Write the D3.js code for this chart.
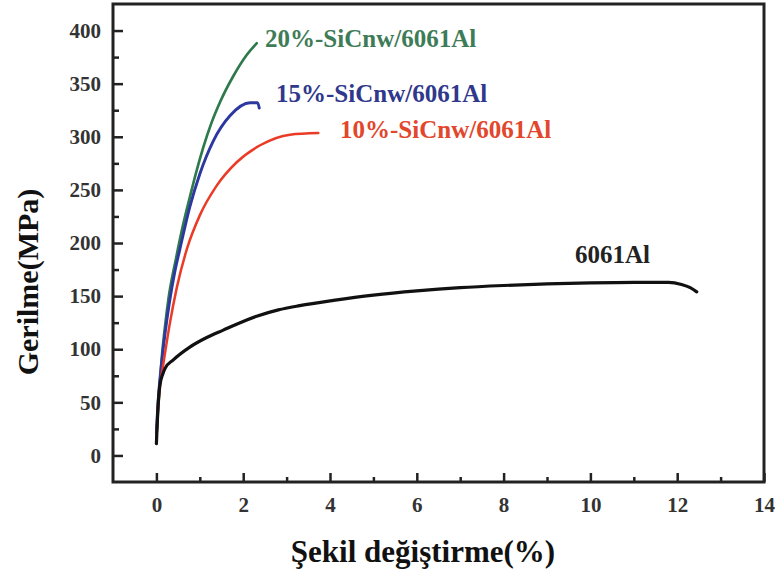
<!DOCTYPE html>
<html><head><meta charset="utf-8">
<script src="https://cdn.jsdelivr.net/npm/d3@7"></script>
<style>body{margin:0;background:#fff}</style>
</head><body><svg id="c" width="779" height="577"></svg>
<script>
// ---- data ----
const xTicks = [0, 2, 4, 6, 8, 10, 12, 14];
const xMinor = [1, 3, 5, 7, 9, 11, 13];
const yTicks = [0, 50, 100, 150, 200, 250, 300, 350, 400];
const yMinor = [25, 75, 125, 175, 225, 275, 325, 375];

const al6061 = [[0,11],[0.03,40],[0.08,66],[0.15,77],[0.2,82],[0.39,90],[0.77,102],[1.16,111],[1.54,118],[1.93,125],[2.31,131],[2.81,137],[3.3,141],[4.08,146],[5,151],[6,155],[7,158],[8,160],[9,161.5],[10,162.5],[11,163],[11.8,163],[12.1,161],[12.3,158],[12.45,154]];
const sic10 = [[0,15],[0.04,45],[0.08,64],[0.16,86],[0.3,122],[0.47,158],[0.7,194],[1.0,226],[1.39,254],[1.85,276],[2.39,292],[3.08,302],[3.73,303.5]];
const sic15 = [[0,21],[0.03,45],[0.06,62],[0.12,87],[0.2,115],[0.3,144],[0.42,172],[0.54,194],[0.77,234],[1.0,265],[1.31,296],[1.7,320],[2.16,332],[2.33,332],[2.37,327]];
const sic20 = [[0,18],[0.05,50],[0.12,90],[0.2,122],[0.28,148],[0.45,185],[0.62,218],[0.77,243],[0.9,264],[1.08,290],[1.25,311],[1.47,333],[1.77,357],[2.08,377],[2.31,388]];

const seriesNames = ["20%-SiCnw/6061Al", "15%-SiCnw/6061Al", "10%-SiCnw/6061Al", "6061Al"];
const xTitle = "Şekil değiştirme(%)";
const yTitle = "Gerilme(MPa)";

// ---- chart ----
const svg = d3.select("#c");
const L = 113, R = 764, T = 4, B = 482;
const x = d3.scaleLinear().domain([-1, 14]).range([L, R]);
const y = d3.scaleLinear().domain([-25, 425]).range([B, T]);
const font = "'Liberation Serif','Times New Roman',serif";

const series = [
  {data: sic20, color: "#2f7a4c", name: seriesNames[0], lx: 265, ly: 47, lc: "#3e7c58", w: 2.7},
  {data: sic15, color: "#2c37a0", name: seriesNames[1], lx: 276, ly: 102, lc: "#2f388c", w: 2.9},
  {data: sic10, color: "#ea3b27", name: seriesNames[2], lx: 340, ly: 138, lc: "#e2462c", w: 2.5},
  {data: al6061, color: "#111111", name: seriesNames[3], lx: 575, ly: 263, lc: "#222222", w: 3.2}
];

const line = d3.line().x(d => x(d[0])).y(d => y(d[1])).curve(d3.curveMonotoneX);

// axes
function styleAxis(g) {
  g.select(".domain").remove();
  g.selectAll(".tick line").attr("stroke", "#222").attr("stroke-width", 2.5);
  g.selectAll(".tick text").attr("fill", "#333").style("font-family", font)
    .style("font-weight", "bold").style("font-size", "21px");
}
svg.append("g").attr("transform", `translate(${L},0)`)
  .call(d3.axisLeft(y).tickValues(yTicks).tickSize(-10).tickPadding(12).tickFormat(d3.format("d")))
  .call(styleAxis);
svg.append("g").attr("transform", `translate(${L},0)`)
  .call(d3.axisLeft(y).tickValues(yMinor).tickSize(-6).tickFormat(""))
  .call(styleAxis);
svg.append("g").attr("transform", `translate(0,${B})`)
  .call(d3.axisBottom(x).tickValues(xTicks).tickSize(-9).tickPadding(15).tickFormat(d3.format("d")))
  .call(styleAxis);
svg.append("g").attr("transform", `translate(0,${B})`)
  .call(d3.axisBottom(x).tickValues(xMinor).tickSize(-5).tickFormat(""))
  .call(styleAxis);

// frame
svg.append("rect").attr("x", L).attr("y", T).attr("width", R - L).attr("height", B - T)
  .attr("fill", "none").attr("stroke", "#222").attr("stroke-width", 3);

// curves
svg.selectAll("path.curve").data(series).join("path").attr("class", "curve")
  .attr("d", d => line(d.data)).attr("fill", "none")
  .attr("stroke", d => d.color).attr("stroke-width", d => d.w)
  .attr("stroke-linecap", "round").attr("stroke-linejoin", "round");

// curve labels
svg.selectAll("text.lbl").data(series).join("text").attr("class", "lbl")
  .attr("x", d => d.lx).attr("y", d => d.ly).text(d => d.name)
  .attr("fill", d => d.lc).style("font-family", font).style("font-weight", "bold").style("font-size", "25px");

// titles
svg.append("text").attr("x", 423).attr("y", 562).attr("text-anchor", "middle")
  .style("font-family", font).style("font-weight", "bold").style("font-size", "31px").attr("fill", "#111")
  .text(xTitle);
svg.append("text").attr("transform", "translate(38,282) rotate(-90)").attr("text-anchor", "middle")
  .style("font-family", font).style("font-weight", "bold").style("font-size", "30px").attr("fill", "#111")
  .text(yTitle);
</script></body></html>
